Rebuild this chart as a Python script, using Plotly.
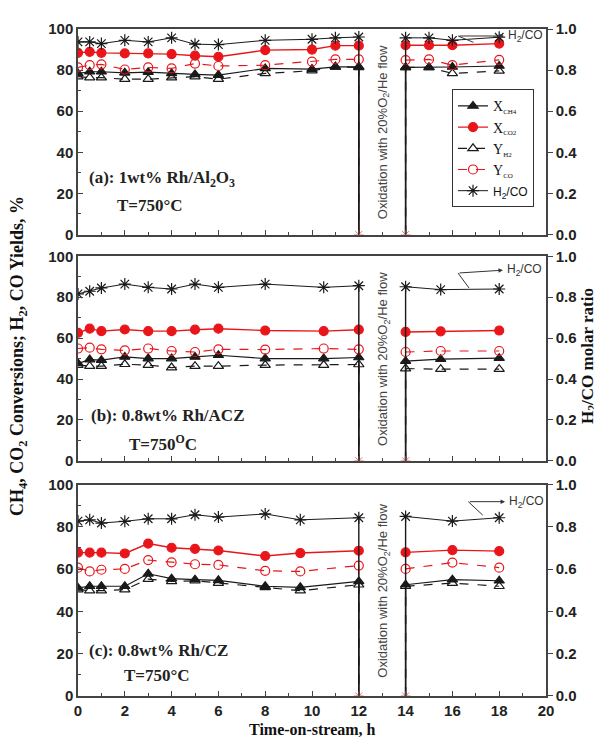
import plotly.graph_objects as go

# ---------------- data ----------------
# Panel (a) 1wt% Rh/Al2O3
tA1 = [0, 0.5, 1, 2, 3, 4, 5, 6, 8, 10, 11, 12]
tA2 = [14, 15, 16, 18]
xch4_A1 = [78.4, 79.2, 79.2, 78.7, 79.0, 78.4, 77.9, 77.6, 80.8, 80.5, 81.6, 81.6]
xch4_A2 = [81.3, 81.3, 81.5, 82.0]
xco2_A1 = [88.4, 88.9, 88.4, 88.1, 88.1, 87.8, 87.0, 86.5, 89.7, 90.0, 91.9, 91.9]
xco2_A2 = [92.1, 92.1, 92.1, 92.9]
yh2_A1 = [76.8, 76.3, 76.3, 75.6, 75.6, 76.3, 76.8, 75.6, 78.4, 79.7, 81.6, 81.3]
yh2_A2 = [81.3, 81.3, 78.4, 79.6]
yco_A1 = [81.3, 82.4, 82.8, 80.3, 81.3, 80.8, 83.2, 82.0, 82.4, 84.1, 85.2, 85.2]
yco_A2 = [84.9, 85.2, 82.4, 85.0]
h2co_A1 = [0.937, 0.937, 0.929, 0.945, 0.937, 0.957, 0.926, 0.924, 0.945, 0.950, 0.957, 0.961]
h2co_A2 = [0.957, 0.957, 0.945, 0.960]

# Panel (b) 0.8wt% Rh/ACZ
tB1 = [0, 0.5, 1, 2, 3, 4, 5, 6, 8, 10.5, 12]
tB2 = [14, 15.5, 18]
xch4_B1 = [47.6, 49.5, 49.2, 50.8, 50.0, 50.0, 50.8, 51.6, 50.0, 50.0, 50.5]
xch4_B2 = [48.7, 49.7, 50.2]
xco2_B1 = [62.6, 64.6, 63.4, 64.2, 63.4, 63.4, 64.1, 64.6, 63.7, 63.4, 64.1]
xco2_B2 = [63.0, 63.3, 63.7]
yh2_B1 = [46.8, 46.3, 46.3, 47.2, 46.8, 45.6, 46.3, 46.3, 46.8, 46.8, 47.1]
yh2_B2 = [45.1, 44.8, 44.8]
yco_B1 = [54.9, 55.3, 54.5, 54.0, 54.9, 53.7, 53.2, 54.5, 54.4, 54.9, 54.5]
yco_B2 = [53.2, 53.7, 53.7]
h2co_B1 = [0.816, 0.829, 0.845, 0.864, 0.848, 0.840, 0.864, 0.848, 0.864, 0.848, 0.856]
h2co_B2 = [0.851, 0.837, 0.840]

# Panel (c) 0.8wt% Rh/CZ
tC1 = [0, 0.5, 1, 2, 3, 4, 5, 6, 8, 9.5, 12]
tC2 = [14, 16, 18]
xch4_C1 = [51.1, 51.9, 51.9, 51.9, 57.8, 55.5, 55.0, 54.7, 51.9, 51.4, 54.2]
xch4_C2 = [52.6, 55.0, 54.5]
xco2_C1 = [67.8, 67.8, 67.8, 67.4, 72.1, 70.1, 69.6, 68.8, 66.2, 67.6, 68.7]
xco2_C2 = [67.9, 69.0, 68.5]
yh2_C1 = [50.3, 49.8, 49.8, 50.3, 55.3, 54.2, 54.5, 53.4, 51.4, 49.8, 52.6]
yh2_C2 = [51.9, 53.4, 51.9]
yco_C1 = [60.7, 58.9, 59.7, 60.1, 64.3, 63.2, 62.3, 62.0, 59.2, 58.9, 61.7]
yco_C2 = [60.1, 63.1, 60.7]
h2co_C1 = [0.827, 0.833, 0.818, 0.826, 0.838, 0.838, 0.857, 0.846, 0.861, 0.833, 0.843]
h2co_C2 = [0.849, 0.827, 0.843]

DROP = 0  # value during oxidation step (12 h -> 14 h)

panel_labels = ["(a): 1wt% Rh/Al<sub>2</sub>O<sub>3</sub>",
                "(b): 0.8wt% Rh/ACZ",
                "(c): 0.8wt% Rh/CZ"]
temp_labels = ["T=750°C", "T=750<sup>O</sup>C", "T=750°C"]
oxid_text = "Oxidation with 20%O<sub>2</sub>/He flow"
x_ticks = list(range(0, 21, 2))
y_ticks = list(range(0, 101, 20))
r_ticks = [0.0, 0.2, 0.4, 0.6, 0.8, 1.0]

# ---------------- styling ----------------
SERIF = "Liberation Serif"
SANS = "Liberation Sans"
RED = "#e8161b"
BLK = "#1a1a1a"
AXC = "#444444"

panels = [
    dict(t1=tA1, t2=tA2, s=dict(xch4=(xch4_A1, xch4_A2), xco2=(xco2_A1, xco2_A2), yh2=(yh2_A1, yh2_A2),
                                yco=(yco_A1, yco_A2), h2co=(h2co_A1, h2co_A2))),
    dict(t1=tB1, t2=tB2, s=dict(xch4=(xch4_B1, xch4_B2), xco2=(xco2_B1, xco2_B2), yh2=(yh2_B1, yh2_B2),
                                yco=(yco_B1, yco_B2), h2co=(h2co_B1, h2co_B2))),
    dict(t1=tC1, t2=tC2, s=dict(xch4=(xch4_C1, xch4_C2), xco2=(xco2_C1, xco2_C2), yh2=(yh2_C1, yh2_C2),
                                yco=(yco_C1, yco_C2), h2co=(h2co_C1, h2co_C2))),
]

sub = lambda s: f"<sub><span style='font-size:7px'>{s}</span></sub>"
styles = {
    "xch4": dict(name="X" + sub("CH4"), color=BLK, dash="solid", symbol="triangle-up", size=9, width=1.2),
    "xco2": dict(name="X" + sub("CO2"), color=RED, dash="solid", symbol="circle", size=9, width=1.4),
    "yh2": dict(name="Y" + sub("H2"), color=BLK, dash="dash", symbol="triangle-up-open", size=9, width=1.2),
    "yco": dict(name="Y" + sub("CO"), color=RED, dash="dash", symbol="circle-open", size=9, width=1.2),
    "h2co": dict(name="<span style='font-family:Liberation Sans;font-size:12px'>H<sub>2</sub>/CO</span>",
                 color=BLK, dash="solid", symbol="asterisk-open", size=10, width=1.0),
}
order = ["xch4", "xco2", "yh2", "yco", "h2co"]
drop_order = ["xco2", "yco", "yh2", "xch4", "h2co"]

fig = go.Figure()

# page body has an 8px margin: the figure is sized so it ends at the window edge
OFF = 8
W, H = 602 - OFF, 740 - OFF
ML, MR, MT, MB = 78 - OFF, 56, 21 - OFF, 44
PH = 675
# panel pixel extents in window coords (top, bottom)
pix = [(21, 229), (251, 458), (482, 696)]
domains = [[(696 - b) / PH, (696 - t) / PH] for t, b in pix]
domains[2][0] = 0.0
domains[0][1] = 1.0
px_x = lambda px: (px - 78) / 468
px_y = lambda py: (696 - py) / PH

for i, p in enumerate(panels):
    xa = "x" if i == 0 else f"x{i+1}"
    yl = "y" if i == 0 else f"y{2*i+1}"
    yr = f"y{2*i+2}"
    t1, t2 = p["t1"], p["t2"]
    # drop lines (oxidation interruption)
    for k in drop_order:
        st = styles[k]
        v1, v2 = p["s"][k]
        is_ratio = k == "h2co"
        fig.add_trace(go.Scatter(
            x=[t1[-1], t1[-1], None, t2[0], t2[0]],
            y=[v1[-1], DROP, None, DROP, v2[0]],
            xaxis=xa, yaxis=yr if is_ratio else yl,
            mode="lines+markers" if is_ratio else "lines",
            line=dict(color=st["color"], dash=st["dash"],
                      width=1.4 if st["color"] == BLK else 0.8),
            marker=dict(symbol="asterisk-open", size=[0, 8, 0, 8, 0], color="#c0392b",
                        line=dict(color="#c0392b", width=1)),
            showlegend=False, hoverinfo="skip"))
    for k in order:
        st = styles[k]
        v1, v2 = p["s"][k]
        is_ratio = k == "h2co"
        fig.add_trace(go.Scatter(
            x=t1 + [None] + t2, y=v1 + [None] + v2,
            xaxis=xa, yaxis=yr if is_ratio else yl,
            mode="lines+markers", name=st["name"],
            line=dict(color=st["color"], dash=st["dash"], width=st["width"]),
            marker=dict(symbol=st["symbol"], size=st["size"], color=st["color"],
                        line=dict(color=st["color"], width=1.2)),
            showlegend=(i == 0), legendgroup=k))

tickfont = dict(family=SANS, size=15, color="#222", weight="bold")
layout = dict(
    width=W, height=H, margin=dict(l=ML, r=MR, t=MT, b=MB),
    paper_bgcolor="white", plot_bgcolor="white",
    showlegend=True,
    legend=dict(x=px_x(452), y=px_y(82), xanchor="left", yanchor="top",
                bordercolor="#333", borderwidth=1, bgcolor="white",
                font=dict(family=SERIF, size=14, color="#111"),
                tracegroupgap=0, itemwidth=30),
)
for i, dom in enumerate(domains):
    xk = "xaxis" if i == 0 else f"xaxis{i+1}"
    xa = "x" if i == 0 else f"x{i+1}"
    ylk = "yaxis" if i == 0 else f"yaxis{2*i+1}"
    yl = "y" if i == 0 else f"y{2*i+1}"
    yrk = f"yaxis{2*i+2}"
    layout[xk] = dict(domain=[0, 1], anchor=yl, range=[0, 20], tickvals=x_ticks,
                      ticks="inside", ticklen=5, tickcolor=AXC, tickwidth=1.2,
                      minor=dict(dtick=1, ticks="inside", ticklen=3, tickcolor=AXC, tickwidth=1),
                      showline=True, linecolor=AXC, linewidth=1.5, mirror=True,
                      showgrid=False, zeroline=False, showticklabels=(i == 2),
                      tickfont=tickfont)
    layout[ylk] = dict(domain=dom, anchor=xa, range=[0, 100], tickvals=y_ticks,
                       ticks="inside", ticklen=5, tickcolor=AXC, tickwidth=1.2,
                       minor=dict(dtick=10, ticks="inside", ticklen=3, tickcolor=AXC, tickwidth=1),
                       showline=True, linecolor=AXC, linewidth=1.5,
                       showgrid=False, zeroline=False, tickfont=tickfont)
    layout[yrk] = dict(domain=dom, anchor=xa, overlaying=yl, side="right", range=[0, 1],
                       tickvals=r_ticks, tickformat=".1f",
                       ticks="outside", ticklen=5, tickcolor=AXC, tickwidth=1.2,
                       showline=True, linecolor=AXC, linewidth=1.5,
                       showgrid=False, zeroline=False, tickfont=tickfont)

fig.update_layout(**layout)

ann = []
shapes = []
lab_pos = [((0.385, 26.9), (1.58, 13.9)), ((0.47, 22.2), (2.09, 8.7)), ((0.385, 21.5), (1.88, 9.8))]
arrow_geo = [((16.9, 93.5), (16.24, 96.6), (18.2, 96.6)),
             ((16.71, 84.5), (16.24, 91.8), (18.16, 93.2)),
             ((17.3, 85.5), (16.68, 91.9), (18.25, 91.9))]
for i in range(3):
    xa = "x" if i == 0 else f"x{i+1}"
    yl = "y" if i == 0 else f"y{2*i+1}"
    (lx, ly), (tx, ty) = lab_pos[i]
    ann.append(dict(x=lx, y=ly, xref=xa, yref=yl, text=panel_labels[i], showarrow=False,
                    xanchor="left", yanchor="middle",
                    font=dict(family=SERIF, size=17, color="#222", weight="bold")))
    ann.append(dict(x=tx, y=ty, xref=xa, yref=yl, text=temp_labels[i], showarrow=False,
                    xanchor="left", yanchor="middle",
                    font=dict(family=SERIF, size=17, color="#222", weight="bold")))
    ann.append(dict(x=13.05, y=50, xref=xa, yref=yl, text=oxid_text, showarrow=False,
                    textangle=-90, xanchor="center", yanchor="middle",
                    font=dict(family=SANS, size=13, color="#444")))
    p0, p1, p2 = arrow_geo[i]
    shapes.append(dict(type="line", xref=xa, yref=yl, x0=p0[0], y0=p0[1], x1=p1[0], y1=p1[1],
                       line=dict(color="#333", width=1)))
    ann.append(dict(x=p2[0], y=p2[1], ax=p1[0], ay=p1[1], xref=xa, yref=yl, axref=xa, ayref=yl,
                    text="", showarrow=True, arrowhead=2, arrowsize=0.9, arrowwidth=1,
                    arrowcolor="#333", standoff=0))
    ann.append(dict(x=p2[0] + 0.1, y=p2[1], xref=xa, yref=yl, text="H<sub>2</sub>/CO",
                    showarrow=False, xanchor="left", yanchor="middle",
                    font=dict(family=SANS, size=12, color="#333")))

ann.append(dict(x=px_x(18), y=px_y(352), xref="paper", yref="paper",
                text="CH<sub>4</sub>, CO<sub>2</sub> Conversions; H<sub>2</sub>, CO Yields, %",
                textangle=-90, showarrow=False, xanchor="center", yanchor="middle",
                font=dict(family=SERIF, size=18, color="#111", weight="bold")))
ann.append(dict(x=px_x(589), y=px_y(352), xref="paper", yref="paper",
                text="H<sub>2</sub>/CO molar ratio",
                textangle=-90, showarrow=False, xanchor="center", yanchor="middle",
                font=dict(family=SERIF, size=17, color="#111", weight="bold")))
ann.append(dict(x=px_x(312), y=px_y(730), xref="paper", yref="paper",
                text="Time-on-stream, h", showarrow=False, xanchor="center", yanchor="middle",
                font=dict(family=SERIF, size=16, color="#111", weight="bold")))

fig.update_layout(annotations=ann, shapes=shapes)
fig.write_html("out.html")
